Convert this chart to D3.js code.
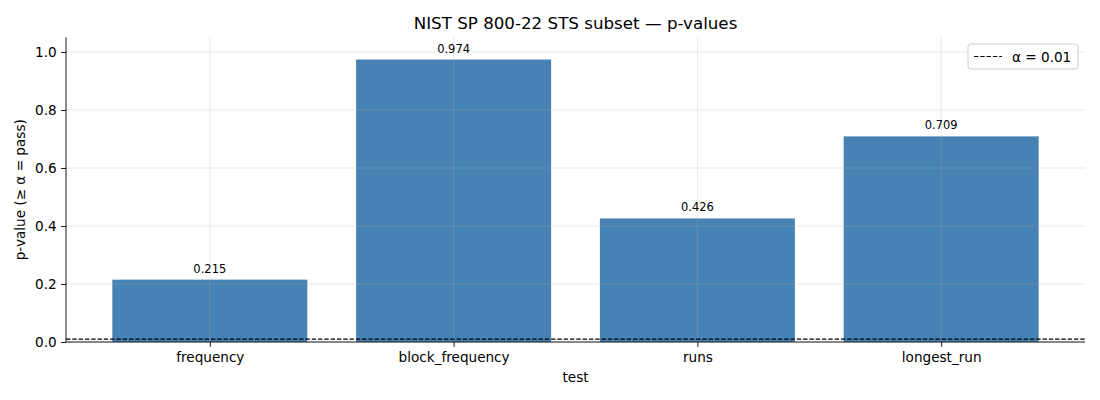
<!DOCTYPE html>
<html><head><meta charset="utf-8">
<script src="https://cdn.jsdelivr.net/npm/d3@7"></script>
<style>body{margin:0;background:#fff}svg{display:block;font-family:"DejaVu Sans",sans-serif}</style>
</head><body><svg id="c" width="1100" height="400"></svg>
<script>
const categories = ["frequency","block_frequency","runs","longest_run"];
const pValues = [0.215, 0.974, 0.426, 0.709];
const labels = ["0.215","0.974","0.426","0.709"];
const yTicks = [0.0,0.2,0.4,0.6,0.8,1.0];
const alpha = 0.01;

const svg = d3.select("#c");
const L=66,R=1085,T=37.5,B=342;
const x = d3.scaleLinear().domain([-0.59,3.59]).range([L,R]);
const y = d3.scaleLinear().domain([0,1.05]).range([B,T]);

// bars
svg.append("g").selectAll("rect").data(pValues).join("rect")
  .attr("x",(d,i)=>x(i-0.4)).attr("width",(d,i)=>x(i+0.4)-x(i-0.4))
  .attr("y",d=>y(d)).attr("height",d=>y(0)-y(d)).attr("fill","#4682b4");

// grid
const g = svg.append("g").attr("stroke","#b0b0b0").attr("stroke-opacity",0.35).attr("stroke-width",0.8);
yTicks.forEach(t=>g.append("line").attr("x1",L).attr("x2",R).attr("y1",y(t)).attr("y2",y(t)));
categories.forEach((c,i)=>g.append("line").attr("x1",x(i)).attr("x2",x(i)).attr("y1",T).attr("y2",B));

// alpha line
svg.append("line").attr("x1",L).attr("x2",R).attr("y1",y(alpha)).attr("y2",y(alpha))
  .attr("stroke","#000").attr("stroke-width",1.2).attr("stroke-dasharray","4.4,1.9");

// value labels
svg.append("g").selectAll("text").data(pValues).join("text")
  .attr("x",(d,i)=>x(i)).attr("y",d=>y(d)-7).attr("text-anchor","middle")
  .attr("font-size","11.5px").attr("fill","#000").text((d,i)=>labels[i]);

// axes
const yAxis = d3.axisLeft(y).tickValues(yTicks).tickFormat(d3.format(".1f")).tickSize(4.9).tickPadding(4.5);
const ya = svg.append("g").attr("transform",`translate(${L},0)`).call(yAxis);
const xAxis = d3.axisBottom(x).tickValues([0,1,2,3]).tickFormat(i=>categories[i]).tickSize(4.9).tickPadding(5.5);
const xa = svg.append("g").attr("transform",`translate(0,${B})`).call(xAxis);
[ya,xa].forEach(a=>{a.selectAll("text").attr("font-size","13.6px").attr("fill","#000").attr("font-family","DejaVu Sans");
  a.selectAll("line").attr("stroke","#000").attr("stroke-width",0.9);
  a.select(".domain").attr("stroke","#000").attr("stroke-width",0.9);});
ya.select(".domain").attr("d",`M0,${T}V${B}`);
xa.select(".domain").attr("d",`M${L},0H${R}`);

// title & labels
svg.append("text").attr("x",(L+R)/2).attr("y",29).attr("text-anchor","middle").attr("font-size","16.7px").text("NIST SP 800-22 STS subset — p-values");
svg.append("text").attr("x",(L+R)/2).attr("y",382).attr("text-anchor","middle").attr("font-size","13.6px").text("test");
svg.append("text").attr("transform",`translate(25,${(T+B)/2}) rotate(-90)`).attr("text-anchor","middle").attr("font-size","13.6px").text("p-value (≥ α = pass)");

// legend
const lg = svg.append("g").attr("transform","translate(968,44)");
lg.append("rect").attr("width",110).attr("height",25).attr("rx",3).attr("fill","#fff").attr("fill-opacity",0.8).attr("stroke","#ccc");
lg.append("line").attr("x1",6).attr("x2",34).attr("y1",12.5).attr("y2",12.5).attr("stroke","#000").attr("stroke-width",1.2).attr("stroke-dasharray","4.4,1.9");
lg.append("text").attr("x",44).attr("y",17.5).attr("font-size","13.6px").text("α = 0.01");
</script></body></html>
